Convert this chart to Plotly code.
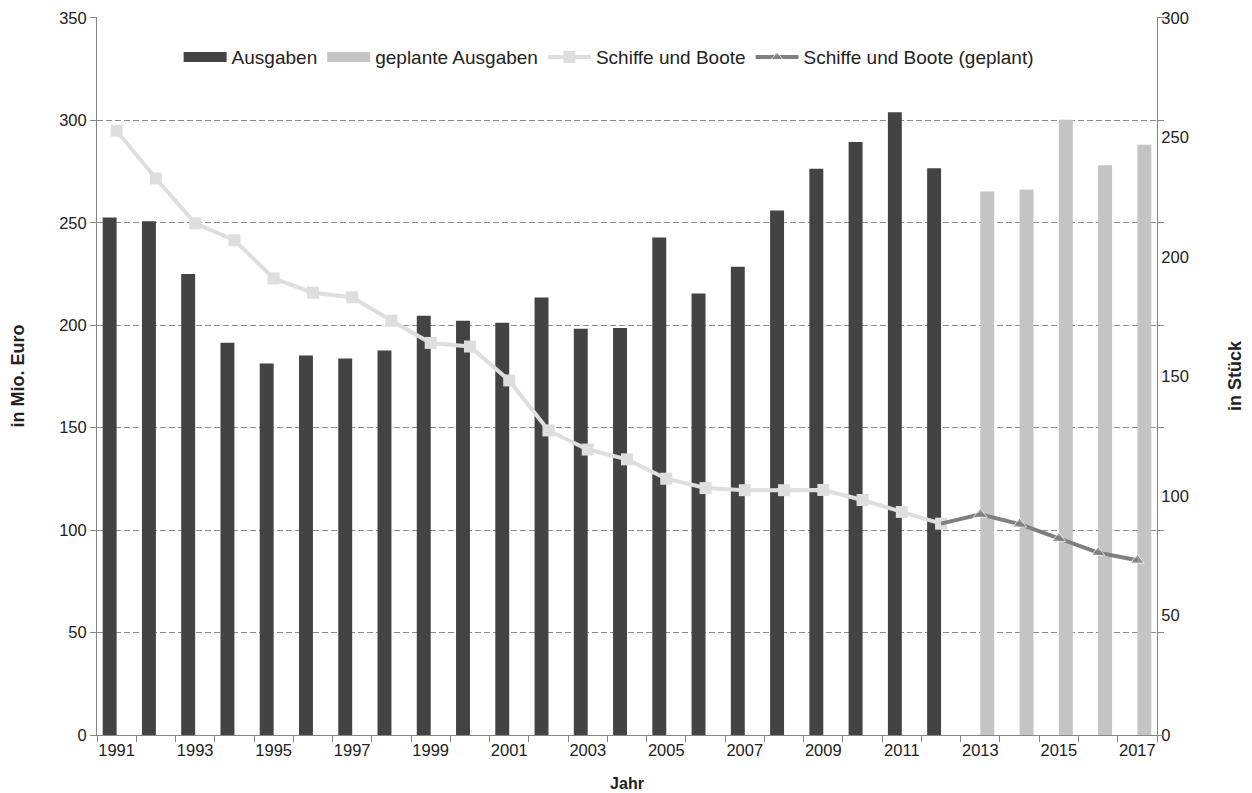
import plotly.graph_objects as go

years = list(range(1991, 2018))
# Ausgaben (Mio. Euro) 1991-2012, None for planned years
ausgaben = [252.5, 250.7, 225.0, 191.4, 181.3, 185.2, 183.8, 187.7, 204.6, 202.2,
            201.2, 213.5, 198.3, 198.6, 242.8, 215.5, 228.5, 256.0, 276.3, 289.4,
            303.9, 276.6, None, None, None, None, None]
# geplante Ausgaben 2013-2017
geplant = [None] * 22 + [265.2, 266.2, 300.2, 278.0, 288.1]

schiffe_years = list(range(1991, 2013))
schiffe = [252.8, 232.8, 214.0, 207.0, 191.0, 185.0, 183.1, 173.3, 164.0, 162.5,
           148.3, 127.4, 119.4, 115.3, 107.2, 103.3, 102.4, 102.4, 102.5, 98.3,
           93.3, 88.4]
schiffe_gepl_years = list(range(2012, 2018))
schiffe_gepl = [88.4, 92.3, 88.2, 82.2, 76.3, 73.1]

tick_years = list(range(1991, 2018, 2))

FONT = "Liberation Sans, Arial, sans-serif"
AX = "#868686"
C_DARK = "#434343"
C_LIGHT = "#c4c4c4"
C_L1 = "#dedede"
C_L2 = "#7f7f7f"

Y1MAX = 350.4
Y2MAX = 300 * Y1MAX / 350

fig = go.Figure()
fig.add_trace(go.Bar(x=years, y=ausgaben, name="Ausgaben", showlegend=False,
                     marker=dict(color=C_DARK, line=dict(width=0))))
fig.add_trace(go.Bar(x=years, y=geplant, name="geplante Ausgaben", showlegend=False,
                     marker=dict(color=C_LIGHT, line=dict(width=0))))
# legend swatches for the bars
fig.add_trace(go.Scatter(x=[None], y=[None], mode="lines", name="Ausgaben",
                         line=dict(color=C_DARK, width=10)))
fig.add_trace(go.Scatter(x=[None], y=[None], mode="lines", name="geplante Ausgaben",
                         line=dict(color=C_LIGHT, width=10)))
fig.add_trace(go.Scatter(x=schiffe_years, y=schiffe, name="Schiffe und Boote",
                         yaxis="y2", mode="lines+markers",
                         line=dict(color=C_L1, width=4),
                         marker=dict(symbol="square", size=12, color=C_L1)))
fig.add_trace(go.Scatter(x=schiffe_gepl_years, y=schiffe_gepl,
                         name="Schiffe und Boote (geplant)",
                         yaxis="y2", mode="lines+markers",
                         line=dict(color=C_L2, width=4),
                         marker=dict(symbol="triangle-up",
                                     size=[0] + [12] * (len(schiffe_gepl) - 1),
                                     color=C_L2)))
# carrier for right-side tick marks
fig.add_trace(go.Scatter(x=[None], y=[None], yaxis="y3", showlegend=False,
                         hoverinfo="skip"))

# page body has an 8px default margin; figure is sized to fit inside it
fig.update_layout(
    width=1244, height=785,
    margin=dict(l=89, r=95, t=9, b=58, autoexpand=False),
    paper_bgcolor="white", plot_bgcolor="white",
    font=dict(family=FONT, size=16.5, color="#222222"),
    barmode="group", bargap=0.29, bargroupgap=0,
    showlegend=True,
    legend=dict(orientation="h", x=0.077, y=0.944, xanchor="left", yanchor="middle",
                font=dict(size=19, color="#222222"), bgcolor="rgba(0,0,0,0)",
                itemwidth=43, tracegroupgap=0, traceorder="normal"),
    xaxis=dict(range=[1990.5, 2017.5], tickvals=tick_years,
               ticktext=[str(y) for y in tick_years],
               ticks="", showgrid=False, zeroline=False, automargin=False,
               showline=True, linecolor=AX, linewidth=1,
               minor=dict(tick0=0.5, dtick=1, ticks="outside", ticklen=6,
                          tickcolor=AX, showgrid=False),
               title=dict(text="<b>Jahr</b>", font=dict(size=16), standoff=20),
               tickfont=dict(size=16.5)),
    yaxis=dict(range=[0, Y1MAX], tickvals=[0, 50, 100, 150, 200, 250, 300, 350],
               showgrid=True, gridcolor="#8c8c8c", griddash="6px,3px", gridwidth=1,
               zeroline=False, showline=True, linecolor=AX, linewidth=1,
               automargin=False,
               ticks="outside", ticklen=6, tickcolor=AX,
               title=dict(text="<b>in Mio. Euro</b>", font=dict(size=18), standoff=34),
               tickfont=dict(size=16.5)),
    yaxis2=dict(range=[0, Y2MAX], tickvals=[0, 50, 100, 150, 200, 250, 300],
                overlaying="y", side="right", automargin=False,
                showgrid=False, zeroline=False, showline=True, linecolor=AX, linewidth=1,
                ticks="",
                title=dict(text="<b>in Stück</b>", font=dict(size=18), standoff=40),
                tickfont=dict(size=16.5)),
    yaxis3=dict(range=[0, Y1MAX], tickvals=[0, 50, 100, 150, 200, 250, 300, 350],
                overlaying="y", side="right", automargin=False,
                showgrid=False, zeroline=False, showline=False, showticklabels=False,
                ticks="outside", ticklen=6, tickcolor=AX),
)

fig.write_html("out.html")
